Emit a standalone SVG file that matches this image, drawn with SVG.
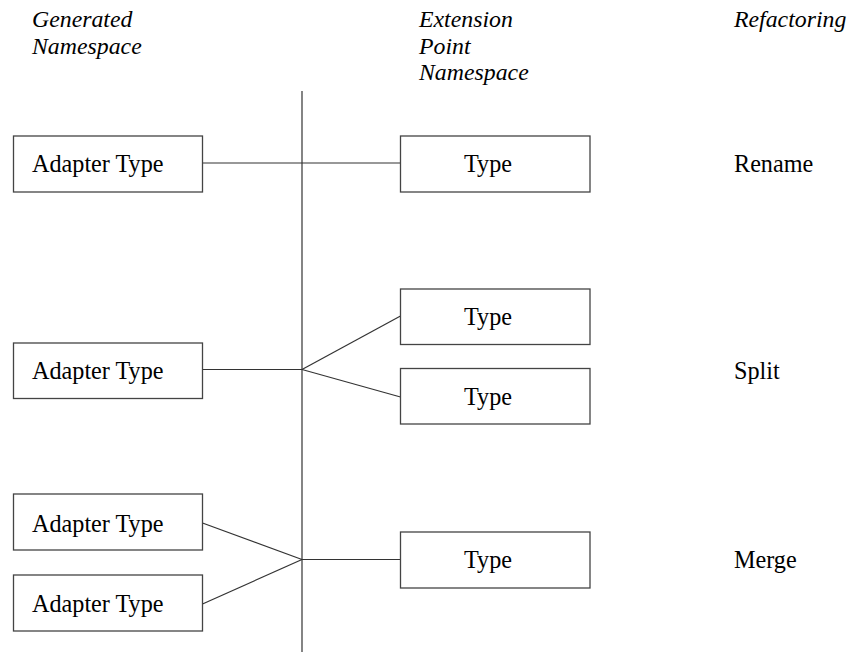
<svg xmlns="http://www.w3.org/2000/svg" width="849" height="655" viewBox="0 0 849 655">
<style>
.box{fill:#fff;stroke:#444;stroke-width:1.3}
.ln{stroke:#333;stroke-width:1.2;fill:none}
.t{font-family:"Liberation Serif","Times New Roman",serif;font-size:24.2px;fill:#000}
.h{font-family:"Liberation Serif","Times New Roman",serif;font-size:23.8px;font-style:italic;fill:#000}
</style>
<rect width="849" height="655" fill="#fff"/>
<g id="headers">
<text class="h" x="32" y="27">Generated</text>
<text class="h" x="32" y="53.5">Namespace</text>
<text class="h" x="419" y="27">Extension</text>
<text class="h" x="419" y="53.5">Point</text>
<text class="h" x="419" y="80">Namespace</text>
<text class="h" x="734" y="27">Refactoring</text>
</g>
<g id="connectors">
<line class="ln" x1="302" y1="91" x2="302" y2="652"/>
<line class="ln" x1="202.5" y1="163" x2="400.5" y2="163"/>
<line class="ln" x1="202.5" y1="369.5" x2="302" y2="369.5"/>
<line class="ln" x1="302" y1="369.5" x2="400.5" y2="316"/>
<line class="ln" x1="302" y1="369.5" x2="400.5" y2="397"/>
<line class="ln" x1="202.5" y1="523" x2="302" y2="559.5"/>
<line class="ln" x1="202.5" y1="604" x2="302" y2="559.5"/>
<line class="ln" x1="302" y1="559.5" x2="400.5" y2="559.5"/>
</g>
<g id="adapter1"><rect class="box" x="13.5" y="136" width="189" height="56"/><text class="t" x="32" y="172">Adapter Type</text></g>
<g id="type1"><rect class="box" x="400.5" y="136" width="189.5" height="56"/><text class="t" x="464" y="172">Type</text></g>
<g id="rename"><text class="t" x="734" y="172">Rename</text></g>
<g id="adapter2"><rect class="box" x="13.5" y="343" width="189" height="55.5"/><text class="t" x="32" y="379">Adapter Type</text></g>
<g id="type2a"><rect class="box" x="400.5" y="289" width="189.5" height="55.5"/><text class="t" x="464" y="325">Type</text></g>
<g id="type2b"><rect class="box" x="400.5" y="368.5" width="189.5" height="55.5"/><text class="t" x="464" y="405">Type</text></g>
<g id="split"><text class="t" x="734" y="379">Split</text></g>
<g id="adapter3"><rect class="box" x="13.5" y="494" width="189" height="56"/><text class="t" x="32" y="531.5">Adapter Type</text></g>
<g id="adapter4"><rect class="box" x="13.5" y="575" width="189" height="56"/><text class="t" x="32" y="611.5">Adapter Type</text></g>
<g id="type3"><rect class="box" x="400.5" y="532" width="189.5" height="56"/><text class="t" x="464" y="567.5">Type</text></g>
<g id="merge"><text class="t" x="734" y="567.5">Merge</text></g>
</svg>
